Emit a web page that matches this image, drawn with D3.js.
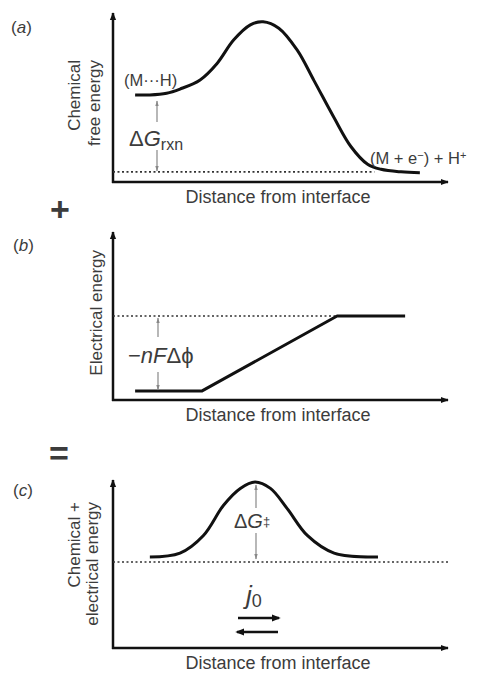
<!DOCTYPE html>
<html>
<head>
<meta charset="utf-8">
<script src="https://cdn.jsdelivr.net/npm/d3@7"></script>
<style>
  body { margin: 0; background: #fff; }
  text { font-family: "Liberation Sans", Arial, sans-serif; fill: #3c3c3c; }
</style>
</head>
<body>
<div id="chart"></div>
<script>
// panel (a): chemical free energy profile (x: distance 0-100, y: energy 0-100)
const chemX = [6.6, 11, 16, 20, 26, 31, 36, 41, 44.8, 49.5, 55, 60, 66, 71, 76, 80, 86, 91.6];
const chemY = [51.5, 51.5, 52.5, 55, 60.4, 70, 84, 93, 94.8, 91, 78, 60, 38, 21, 10.5, 7.5, 6, 5.5];
const chemBase = 6;

// panel (b): electrical energy
const elecX = [6.6, 26.6, 66.9, 87.2];
const elecY = [5.4, 5.4, 50, 50];
const elecTop = 50;

// panel (c): combined energy
const combX = [11, 20, 27, 33, 38, 42.4, 47, 52, 58, 66, 79.1];
const combY = [54.2, 56.5, 67, 85, 95, 98.8, 95, 83, 67, 56.5, 54.2];
const combBase = 51.2;

const xTitle = "Distance from interface";

const W = 479, H = 673;
const svg = d3.select("#chart").append("svg")
  .attr("width", W).attr("height", H);

const defs = svg.append("defs");
defs.append("marker").attr("id", "axisHead")
  .attr("viewBox", "0 0 10 10").attr("refX", 9).attr("refY", 5)
  .attr("markerWidth", 3.2).attr("markerHeight", 3.2).attr("orient", "auto")
  .append("path").attr("d", "M0,1 L10,5 L0,9 Z").attr("fill", "#111");
defs.append("marker").attr("id", "dimHead")
  .attr("viewBox", "0 0 10 10").attr("refX", 9).attr("refY", 5)
  .attr("markerWidth", 5).attr("markerHeight", 5).attr("orient", "auto-start-reverse")
  .append("path").attr("d", "M0,2 L10,5 L0,8 Z").attr("fill", "#888");
defs.append("marker").attr("id", "fluxHead")
  .attr("viewBox", "0 0 10 10").attr("refX", 8).attr("refY", 5)
  .attr("markerWidth", 3.5).attr("markerHeight", 3.5).attr("orient", "auto")
  .append("path").attr("d", "M0,1 L10,5 L0,9 Z").attr("fill", "#111");

const left = 113, right = 448;

function panel(top, bottom) {
  const x = d3.scaleLinear().domain([0, 100]).range([left, right]);
  const y = d3.scaleLinear().domain([0, 100]).range([bottom, top]);
  // axes without ticks
  const gx = svg.append("g").attr("transform", `translate(0,${bottom})`)
    .call(d3.axisBottom(x).tickValues([]).tickSizeOuter(0));
  gx.select(".domain").attr("stroke", "#111").attr("stroke-width", 2.5)
    .attr("d", `M${left - 1},0H${right}`).attr("marker-end", "url(#axisHead)");
  const gy = svg.append("g").attr("transform", `translate(${left},0)`)
    .call(d3.axisLeft(y).tickValues([]).tickSizeOuter(0));
  gy.select(".domain").attr("stroke", "#111").attr("stroke-width", 2.5)
    .attr("d", `M0,${bottom + 1}V${top}`).attr("marker-end", "url(#axisHead)");
  svg.append("text").attr("x", 278).attr("y", bottom + 21)
    .attr("text-anchor", "middle").attr("font-size", 18).text(xTitle);
  return { x, y };
}

function curve(p, xs, ys, kind) {
  const pts = xs.map((v, i) => [v, ys[i]]);
  const line = d3.line().x(d => p.x(d[0])).y(d => p.y(d[1]))
    .curve(kind || d3.curveLinear);
  svg.append("path").attr("d", line(pts)).attr("fill", "none")
    .attr("stroke", "#111").attr("stroke-width", 3).attr("stroke-linejoin", "round");
}

function dotted(p, x0, x1, yv) {
  svg.append("line").attr("x1", p.x(x0)).attr("x2", p.x(x1))
    .attr("y1", p.y(yv)).attr("y2", p.y(yv))
    .attr("stroke", "#333").attr("stroke-width", 1.6).attr("stroke-dasharray", "2,2.5");
}

function dim(px, y0, y1, gapTop, gapBot) {
  // two-part dimension arrow with gap for label
  svg.append("line").attr("x1", px).attr("x2", px).attr("y1", gapTop).attr("y2", y0)
    .attr("stroke", "#888").attr("stroke-width", 1.2).attr("marker-end", "url(#dimHead)");
  svg.append("line").attr("x1", px).attr("x2", px).attr("y1", gapBot).attr("y2", y1)
    .attr("stroke", "#888").attr("stroke-width", 1.2).attr("marker-end", "url(#dimHead)");
}

function yTitle(lines, xs, yEnd) {
  lines.forEach((t, i) => {
    svg.append("text").attr("transform", `translate(${xs[i]},${yEnd}) rotate(-90)`)
      .attr("text-anchor", "end").attr("font-size", 17).attr("fill", "#555").text(t);
  });
}

function panelTag(letter, x, y) {
  const t = svg.append("text").attr("x", x).attr("y", y).attr("font-size", 17);
  t.append("tspan").text("(");
  t.append("tspan").attr("font-style", "italic").text(letter);
  t.append("tspan").text(")");
}

// ---------- panel (a)
const pa = panel(13, 182);
dotted(pa, 0, 78, chemBase);
curve(pa, chemX, chemY, d3.curveCatmullRom.alpha(0.5));
yTitle(["Chemical", "free energy"], [80, 100], 60);
panelTag("a", 11, 33);
svg.append("text").attr("x", 124).attr("y", 86).attr("font-size", 16.5).text("(M\u00b7\u00b7\u00b7H)");
dim(157, 101, 171, 122, 150);
const dg = svg.append("text").attr("x", 129).attr("y", 146).attr("font-size", 22);
dg.append("tspan").text("\u0394");
dg.append("tspan").attr("font-style", "italic").text("G");
dg.append("tspan").attr("font-size", 16).attr("dy", 4).text("rxn");
const prod = svg.append("text").attr("x", 370).attr("y", 164).attr("font-size", 16.5);
prod.append("tspan").text("(M + e");
prod.append("tspan").attr("font-size", 11).attr("dy", -5).text("\u2212");
prod.append("tspan").attr("dy", 5).text(") + H");
prod.append("tspan").attr("font-size", 11).attr("dy", -5).text("+");

// plus sign
svg.append("text").attr("x", 60).attr("y", 221).attr("text-anchor", "middle")
  .attr("font-size", 34).attr("font-weight", "bold").attr("fill", "#111").text("+");

// ---------- panel (b)
const pb = panel(232, 400);
dotted(pb, 0, 66.9, elecTop);
curve(pb, elecX, elecY);
yTitle(["Electrical energy"], [102], 250);
panelTag("b", 13, 251);
dim(158, 318, 390, 337, 372);
const nf = svg.append("text").attr("x", 128).attr("y", 363).attr("font-size", 22);
nf.append("tspan").text("\u2212");
nf.append("tspan").attr("font-style", "italic").text("nF");
nf.append("tspan").text("\u0394\u03d5");

// equals sign
svg.append("text").attr("x", 59).attr("y", 465).attr("text-anchor", "middle")
  .attr("font-size", 34).attr("font-weight", "bold").attr("fill", "#111").text("=");

// ---------- panel (c)
const pc = panel(480, 648);
dotted(pc, 0, 100, combBase);
curve(pc, combX, combY, d3.curveCatmullRom.alpha(0.5));
yTitle(["Chemical +", "electrical energy"], [80, 98], 502);
panelTag("c", 13, 496);
dim(256, 485, 559, 508, 533);
const dgs = svg.append("text").attr("x", 234).attr("y", 528).attr("font-size", 20);
dgs.append("tspan").text("\u0394");
dgs.append("tspan").attr("font-style", "italic").text("G");
dgs.append("tspan").attr("font-size", 13).attr("dy", -2).text("\u2021");
const j0 = svg.append("text").attr("x", 246).attr("y", 604).attr("font-size", 26);
j0.append("tspan").attr("font-style", "italic").text("j");
j0.append("tspan").attr("font-size", 18).attr("dy", 3).text("0");
svg.append("line").attr("x1", 238).attr("x2", 279).attr("y1", 618).attr("y2", 618)
  .attr("stroke", "#111").attr("stroke-width", 2.5).attr("marker-end", "url(#fluxHead)");
svg.append("line").attr("x1", 278).attr("x2", 237).attr("y1", 632).attr("y2", 632)
  .attr("stroke", "#111").attr("stroke-width", 2.5).attr("marker-end", "url(#fluxHead)");
</script>
</body>
</html>
